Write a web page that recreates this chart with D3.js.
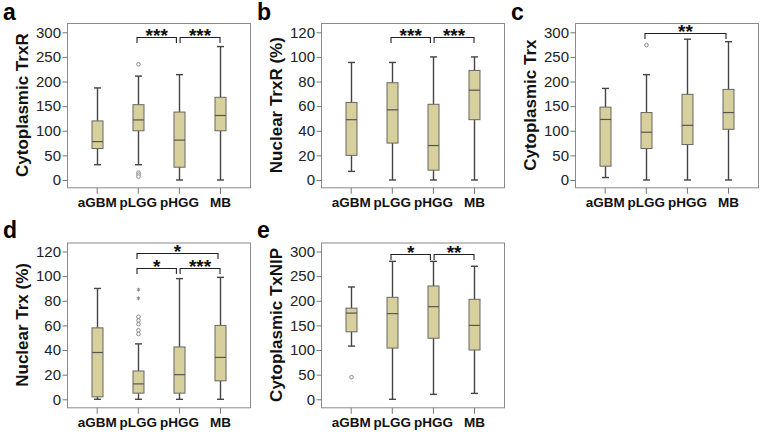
<!DOCTYPE html>
<html><head><meta charset="utf-8">
<script src="https://cdn.jsdelivr.net/npm/d3@7"></script>
<style>body{margin:0;background:#fff}svg{display:block}</style>
</head><body>
<svg id="c" width="762" height="435"></svg>
<script>
// ---- data ----
const cats = ["aGBM", "pLGG", "pHGG", "MB"];
// [whisker low, Q1, median, Q3, whisker high] per category
const cytoTrxR   = [[31, 64, 78, 120, 187], [31, 100, 122, 153, 211], [0, 26, 81, 138, 214], [0, 100, 131, 168, 271]];
const cytoTrxROut = [[], [235, 15, 11, 7], [], []];
const nucTrxR    = [[7, 20, 49, 63, 95.5], [0, 30, 57, 79, 95.5], [0, 8, 28, 61.5, 100], [0, 49, 73, 89, 100]];
const nucTrxROut = [[], [], [], []];
const cytoTrx    = [[5, 28, 123, 148, 186], [0, 64, 97, 137, 214], [0, 72, 111, 174, 286], [0, 103, 137, 184, 281]];
const cytoTrxOut = [[], [274], [], []];
const nucTrx     = [[0, 2, 38, 58, 90], [0, 5, 12.5, 23, 45], [0, 5, 20, 42.5, 98], [0, 15, 34, 60, 99]];
const nucTrxOut  = [[], [67, 64, 61, 56, 53], [], []];
const nucTrxExt  = [[], [89, 82], [], []];
const cytoTxNIP  = [[108, 137, 175, 185, 228], [0, 104, 174, 207, 280], [10, 124, 188, 230, 280], [12, 100, 150, 203, 270]];
const cytoTxNIPOut = [[45], [], [], []];
// significance: [from, to, label]
const sigA = [["pLGG", "pHGG", "***"], ["pHGG", "MB", "***"]];
const sigB = [["pLGG", "pHGG", "***"], ["pHGG", "MB", "***"]];
const sigC = [["pLGG", "MB", "**"]];
const sigD = [["pLGG", "pHGG", "*"], ["pHGG", "MB", "***"], ["pLGG", "MB", "*"]];
const sigE = [["pLGG", "pHGG", "*"], ["pHGG", "MB", "**"]];
const yTicks300 = [0, 50, 100, 150, 200, 250, 300];
const yTicks120 = [0, 20, 40, 60, 80, 100, 120];

// ---- layout ----
const panels = [
  {id:"a", title:"Cytoplasmic TrxR", stats:cytoTrxR, out:cytoTrxROut, ext:null, sig:sigA, sigY:[291,291], ticks:yTicks300, fx:67, row:0},
  {id:"b", title:"Nuclear TrxR (%)", stats:nucTrxR, out:nucTrxROut, ext:null, sig:sigB, sigY:[116.5,116.5], ticks:yTicks120, fx:321, row:0},
  {id:"c", title:"Cytoplasmic Trx", stats:cytoTrx, out:cytoTrxOut, ext:null, sig:sigC, sigY:[298], ticks:yTicks300, fx:575, row:0},
  {id:"d", title:"Nuclear Trx (%)", stats:nucTrx, out:nucTrxOut, ext:nucTrxExt, sig:sigD, sigY:[106.4,106.4,119], ticks:yTicks120, fx:67, row:1},
  {id:"e", title:"Cytoplasmic TxNIP", stats:cytoTxNIP, out:cytoTxNIPOut, ext:null, sig:sigE, sigY:[295,295], ticks:yTicks300, fx:321, row:1}
];
const rows = [{y0:180, yTop:32.3, fTop:23, fBot:187.3, lab:20},
              {y0:399.3, yTop:251.5, fTop:242.5, fBot:407.3, lab:238}];
const FW = 183;
const svg = d3.select("#c");
const fill = "#d7d09c";
const FONT = "Arial, Liberation Sans, sans-serif";

panels.forEach(p => {
  const r = rows[p.row];
  const g = svg.append("g");
  const x = d3.scalePoint().domain(cats).range([p.fx + 29.7, p.fx + 153]);
  const y = d3.scaleLinear().domain([0, d3.max(p.ticks)]).range([r.y0, r.yTop]);

  // panel letter
  g.append("text").attr("x", p.fx - 64).attr("y", r.lab)
    .attr("font-family", FONT).attr("font-weight", "bold")
    .attr("font-size", 23).text(p.id);

  // frame
  g.append("rect").attr("x", p.fx + 0.5).attr("y", r.fTop + 0.5).attr("width", FW).attr("height", r.fBot - r.fTop)
    .attr("fill", "none").attr("stroke", "#8a8a8a").attr("stroke-width", 1);

  // y axis
  const ya = d3.axisLeft(y).tickValues(p.ticks).tickSize(5).tickPadding(1.5);
  const yg = g.append("g").attr("transform", `translate(${p.fx + 0.5},0)`).call(ya);
  yg.select(".domain").remove();
  yg.selectAll("line").attr("stroke", "#777");
  yg.selectAll("text").attr("font-family", FONT).attr("font-size", 15).attr("fill", "#222");

  // x axis
  const xa = d3.axisBottom(x).tickSize(6).tickPadding(4);
  const xg = g.append("g").attr("transform", `translate(0,${r.fBot + 0.5})`).call(xa);
  xg.select(".domain").remove();
  xg.selectAll("line").attr("stroke", "#777");
  xg.selectAll("text").attr("font-family", FONT).attr("font-size", 13.5)
    .attr("font-weight", "bold").attr("fill", "#111");

  // y title
  g.append("text").attr("transform", `translate(${p.fx - 39},${(r.fTop + r.fBot) / 2}) rotate(-90)`)
    .attr("text-anchor", "middle").attr("font-family", FONT)
    .attr("font-weight", "bold").attr("font-size", 17).attr("fill", "#111").text(p.title);

  // boxes
  const bw = 11, cw = 7;
  p.stats.forEach((s, i) => {
    const cx = Math.round(x(cats[i])) + 0.5;
    const [lo, q1, md, q3, hi] = s;
    const wl = g.append("g").attr("stroke", "#444").attr("stroke-width", 1.4);
    wl.append("line").attr("x1", cx).attr("x2", cx).attr("y1", y(hi)).attr("y2", y(q3));
    wl.append("line").attr("x1", cx).attr("x2", cx).attr("y1", y(q1)).attr("y2", y(lo));
    wl.append("line").attr("x1", cx - cw / 2).attr("x2", cx + cw / 2).attr("y1", y(hi)).attr("y2", y(hi));
    wl.append("line").attr("x1", cx - cw / 2).attr("x2", cx + cw / 2).attr("y1", y(lo)).attr("y2", y(lo));
    g.append("rect").attr("x", cx - bw / 2).attr("y", y(q3)).attr("width", bw).attr("height", y(q1) - y(q3))
      .attr("fill", fill).attr("stroke", "#666").attr("stroke-width", 1);
    g.append("line").attr("x1", cx - bw / 2).attr("x2", cx + bw / 2).attr("y1", y(md)).attr("y2", y(md))
      .attr("stroke", "#555").attr("stroke-width", 1.2);
    p.out[i].forEach(v => {
      g.append("circle").attr("cx", cx).attr("cy", y(v)).attr("r", 1.8)
        .attr("fill", "#fff").attr("stroke", "#888").attr("stroke-width", 1);
    });
    if (p.ext) p.ext[i].forEach(v => {
      g.append("path").attr("transform", `translate(${cx},${y(v)})`)
        .attr("d", d3.symbol(d3.symbolAsterisk, 10)())
        .attr("fill", "none").attr("stroke", "#888").attr("stroke-width", 1);
    });
  });

  // significance brackets
  p.sig.forEach((s, k) => {
    const yb = Math.round(y(p.sigY[k])) + 0.5;
    const x1 = x(s[0]) - 0.8 + (s[0] === "pHGG" ? 2 : 0);
    const x2 = x(s[1]) + (s[1] === "pHGG" ? -2.5 : 0) - (s[1] === "MB" && s[0] === "pLGG" ? 2 : 0);
    g.append("path").attr("d", `M${x1},${yb + 5.5}V${yb}H${x2}V${yb + 5.5}`)
      .attr("fill", "none").attr("stroke", "#222").attr("stroke-width", 1.1);
    g.append("text").attr("x", (x1 + x2) / 2).attr("y", yb + 4.5).attr("text-anchor", "middle")
      .attr("font-family", FONT).attr("font-weight", "bold")
      .attr("font-size", 19).attr("fill", "#111").text(s[2]);
  });
});
</script>
</body></html>
